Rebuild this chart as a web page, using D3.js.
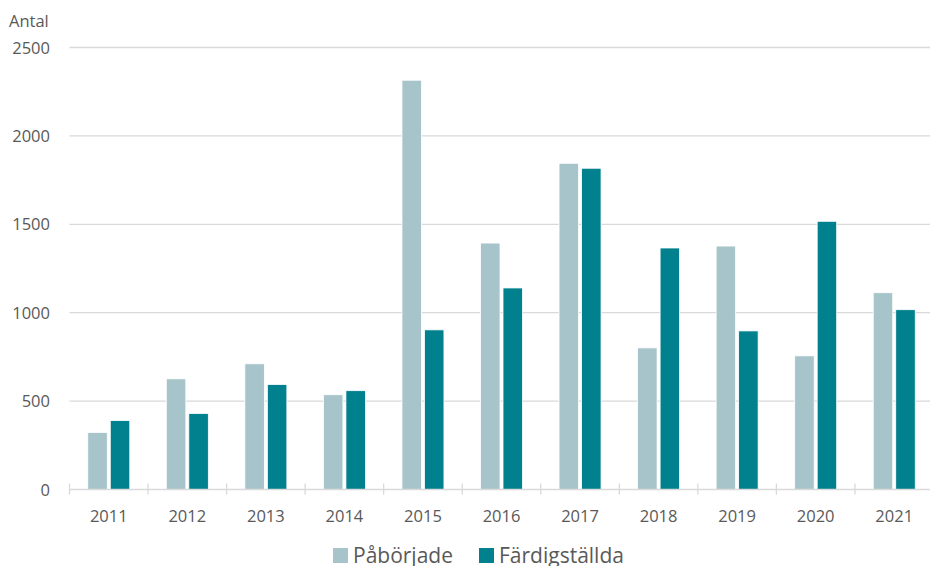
<!DOCTYPE html>
<html>
<head>
<meta charset="utf-8">
<script src="https://cdn.jsdelivr.net/npm/d3@7"></script>
<style>
  html, body { margin: 0; background: #fff; overflow: hidden; }
  svg { display: block; }
  text { font-family: "Open Sans", sans-serif; fill: #595959; }
</style>
</head>
<body>
<div id="graph"></div>
<script>
var years = ["2011","2012","2013","2014","2015","2016","2017","2018","2019","2020","2021"]
var paborjade = [323, 626, 711, 536, 2315, 1394, 1845, 801, 1377, 756, 1113]
var fardigstallda = [390, 430, 594, 559, 903, 1140, 1817, 1366, 897, 1517, 1017]
var seriesNames = ["Påbörjade", "Färdigställda"]
var yTicks = [0, 500, 1000, 1500, 2000, 2500]

var w = 930, h = 566
var colour = d3.scaleOrdinal().domain(seriesNames).range(["#a7c4ca", "#00818d"])

var padL = 69.5, padR = 933.5, padT = 47.5, padB = 489.5

var svg = d3.select('#graph')
  .append('svg')
  .attr("width", w)
  .attr("height", h)

var x = d3.scaleBand()
  .domain(years)
  .range([padL, padR])

var y = d3.scaleLinear()
  .domain([0, 2500])
  .range([padB, padT])

// gridlines, run to the right edge
svg.append("g").selectAll("line")
  .data(yTicks.filter(d => d > 0))
  .enter().append("line")
  .attr("x1", padL).attr("x2", w)
  .attr("y1", d => y(d))
  .attr("y2", d => y(d))
  .style("stroke", "#d9d9d9")
  .style("stroke-width", 1.3)

// y labels
svg.append("g").selectAll("text")
  .data(yTicks)
  .enter().append("text")
  .attr("x", 50)
  .attr("y", d => y(d) + 6)
  .attr("text-anchor", "end")
  .style("font-size", "16.5px")
  .text(d => d)

svg.append("text")
  .attr("x", 9).attr("y", 27)
  .style("font-size", "16.5px")
  .text("Antal")

// bars
var bw = 19.5, gap = 3
var rows = years.map((yr, i) => ({year: yr, vals: [paborjade[i], fardigstallda[i]]}))

var groups = svg.append("g").selectAll("g")
  .data(rows)
  .enter().append("g")
  .attr("transform", d => "translate(" + (x(d.year) + x.bandwidth() / 2) + ",0)")

groups.selectAll("rect")
  .data(d => d.vals.map((v, k) => ({v: v, k: k})))
  .enter().append("rect")
  .attr("x", d => d.k == 0 ? -bw - gap / 2 : gap / 2)
  .attr("width", bw)
  .attr("y", d => y(d.v))
  .attr("height", d => padB - y(d.v))
  .style("fill", d => colour(seriesNames[d.k]))
  .style("stroke", "#ffffff")
  .style("stroke-width", 0.8)

// x axis line + ticks
svg.append("line")
  .attr("x1", padL).attr("x2", w)
  .attr("y1", padB).attr("y2", padB)
  .style("stroke", "#d9d9d9")
  .style("stroke-width", 1.5)

svg.append("g").selectAll("line")
  .data(years)
  .enter().append("line")
  .attr("x1", d => x(d)).attr("x2", d => x(d))
  .attr("y1", padB - 6).attr("y2", padB + 5)
  .style("stroke", "#d9d9d9")
  .style("stroke-width", 1.3)

svg.append("g").selectAll("text")
  .data(years)
  .enter().append("text")
  .attr("x", d => x(d) + x.bandwidth() / 2)
  .attr("y", 522)
  .attr("text-anchor", "middle")
  .style("font-size", "16.5px")
  .text(d => d)

// legend
var legendX = [333, 479]
var legend = svg.append("g").selectAll("g")
  .data(seriesNames)
  .enter().append("g")
  .attr("transform", (d, i) => "translate(" + legendX[i] + ",548)")

legend.append("rect")
  .attr("width", 15).attr("height", 15)
  .style("fill", d => colour(d))

legend.append("text")
  .attr("x", 20).attr("y", 15)
  .style("font-size", "21px")
  .text(d => d)
</script>
</body>
</html>
